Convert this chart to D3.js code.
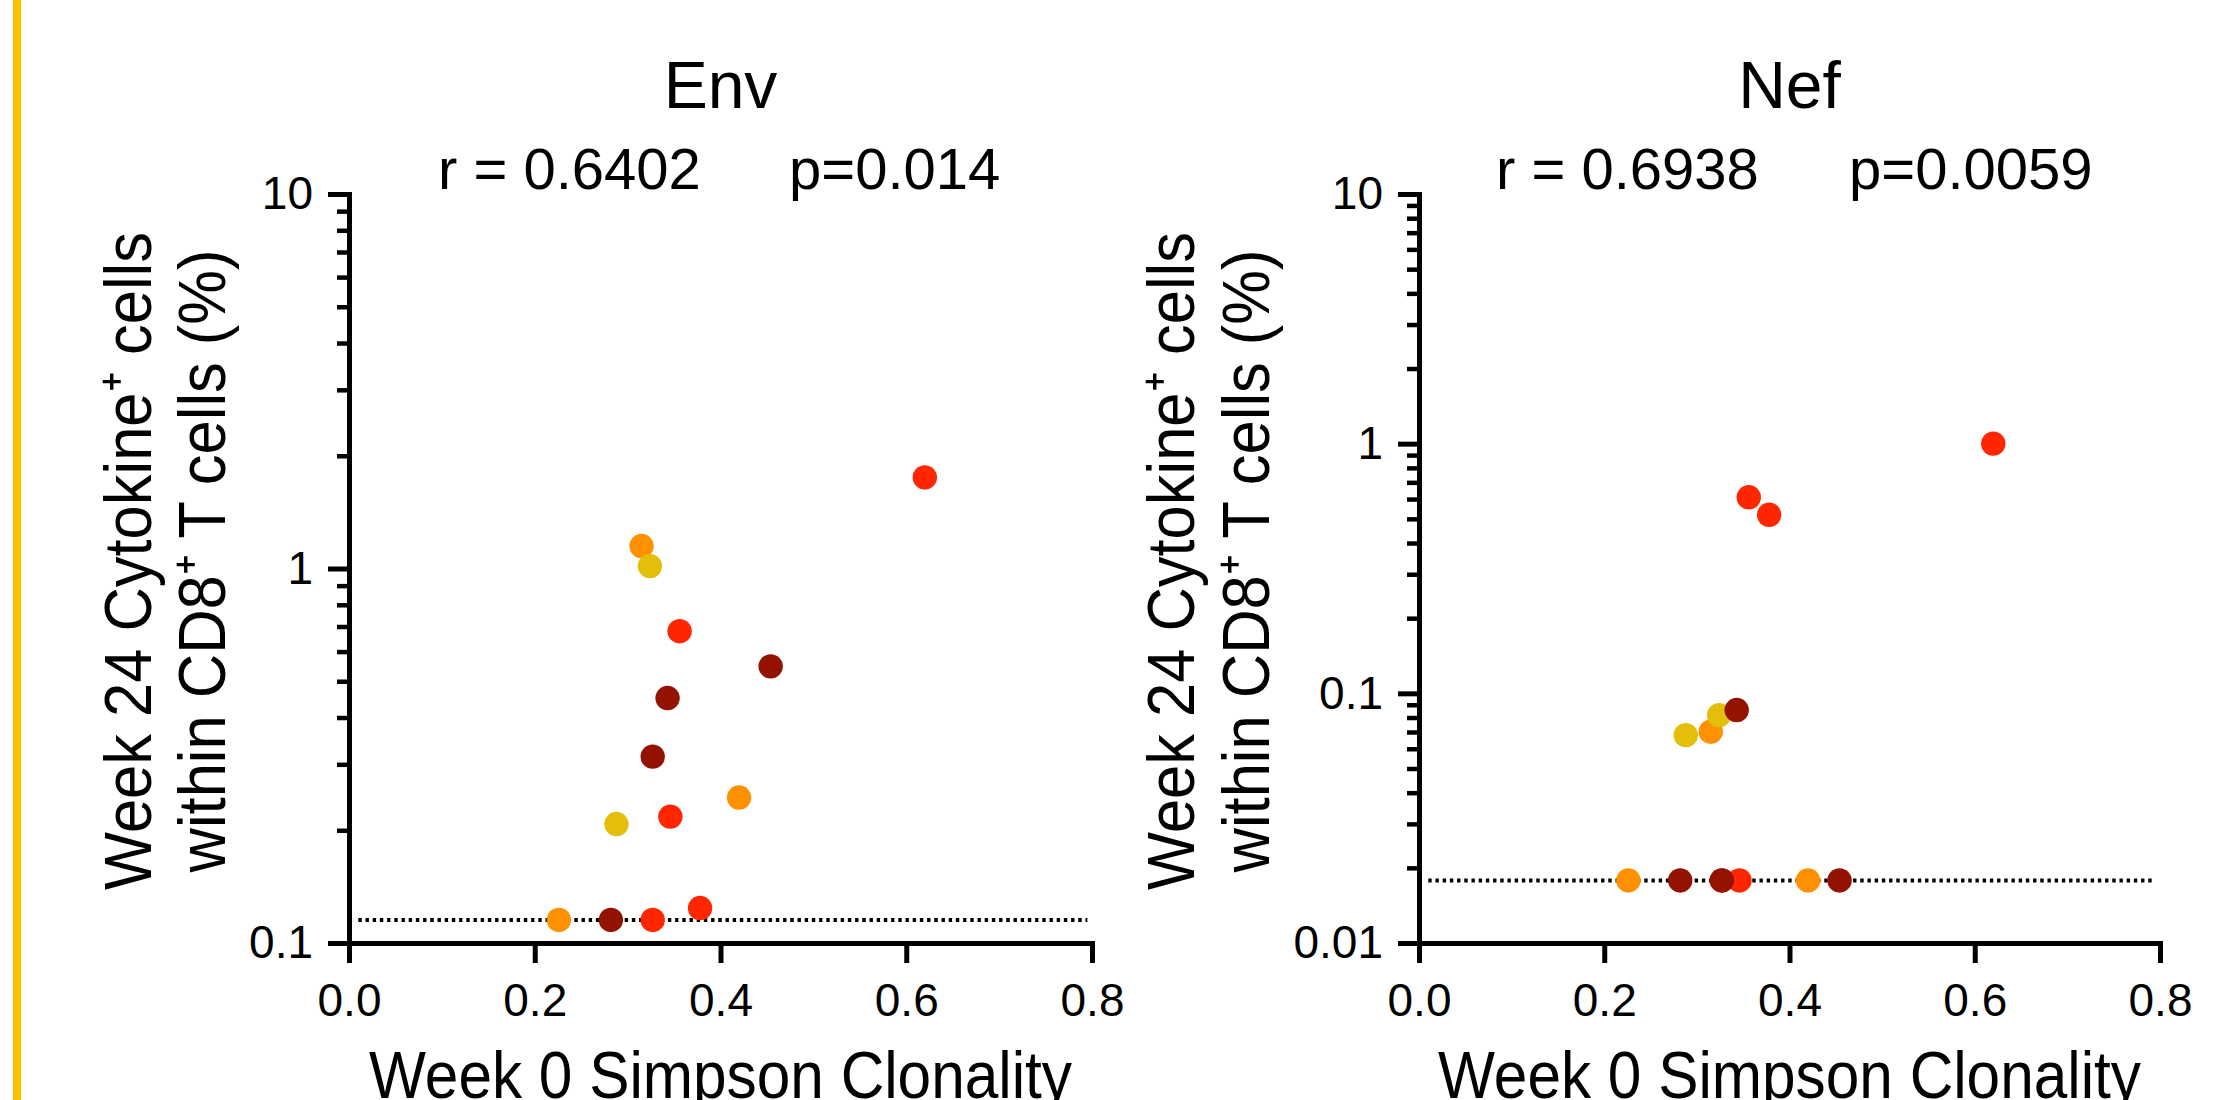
<!DOCTYPE html>
<html>
<head>
<meta charset="utf-8">
<script src="https://cdn.jsdelivr.net/npm/d3@7"></script>
<style>
  html, body { margin: 0; padding: 0; background: #ffffff; }
  svg { display: block; }
  text { font-family: "Liberation Sans", Arial, Helvetica, sans-serif; fill: #000; }
</style>
</head>
<body>
<svg id="chart" width="2229" height="1100"></svg>
<script>
// ---------------- DATA ----------------
// One entry per subject (drawing order: orange, yellow, red, dark red)
const groups     = ["orange","orange","orange","yellow","yellow","red","red","red","red","red","darkred","darkred","darkred","darkred"];
const clonality  = [0.315, 0.420, 0.226, 0.324, 0.288, 0.620, 0.356, 0.346, 0.378, 0.327, 0.454, 0.343, 0.327, 0.282];
const envValues  = [1.148, 0.2446, 0.1152, 1.015, 0.2078, 1.75, 0.68, 0.2175, 0.124, 0.1152, 0.548, 0.451, 0.3145, 0.1152];
const nefValues  = [0.0702, 0.0178, 0.0178, 0.0818, 0.068, 1.0, 0.61, 0.0178, 0.519, 0.0178, 0.0178, 0.0857, 0.0178, 0.0178];
const groupColors = { orange: "#ff9100", yellow: "#e3be0b", red: "#ff2600", darkred: "#931300" };

const panelTitles = ["Env", "Nef"];
const rValues = ["r = 0.6402", "r = 0.6938"];
const pValues = ["p=0.014", "p=0.0059"];
const detectionLimits = [0.1152, 0.0178];
const yDomains = [[0.1, 10], [0.01, 10]];
const yMajorTicks = [[0.1, 1, 10], [0.01, 0.1, 1, 10]];
const xTicks = [0, 0.2, 0.4, 0.6, 0.8];
const xDomain = [0, 0.8];
const lodLineExtent = [0.01, 0.795];
const xTitle = "Week 0 Simpson Clonality";
const yTitleLine1 = "Week 24 Cytokine\u207A cells";
const yTitleLine2 = "within CD8\u207A T cells (%)";

// ---------------- LAYOUT ----------------
const svg = d3.select("#chart");
svg.append("rect").attr("x", 0).attr("y", 0).attr("width", 2229).attr("height", 1100).attr("fill", "#fff");
svg.append("rect").attr("x", 13).attr("y", 0).attr("width", 8).attr("height", 1100).attr("fill", "#ffc000");

const panels = [
  { x0: 349, x1: 1092, yTitle1: 151, yTitle2: 225, rX: 438, pX: 789, values: envValues },
  { x0: 1419, x1: 2160, yTitle1: 1194, yTitle2: 1269, rX: 1496, pX: 1849, values: nefValues }
];
const yTop = 194, yBottom = 943;
const AXIS_W = 5;

panels.forEach((p, i) => {
  const x = d3.scaleLinear().domain(xDomain).range([p.x0, p.x1]);
  const y = d3.scaleLog().domain(yDomains[i]).range([yBottom, yTop]);
  const g = svg.append("g");
  const cx = (p.x0 + p.x1) / 2;

  // Title
  g.append("text").attr("x", cx).attr("y", 108).attr("text-anchor", "middle")
    .attr("font-size", 66).text(panelTitles[i]);
  // Stats
  g.append("text").attr("x", p.rX).attr("y", 189).attr("font-size", 58).text(rValues[i]);
  g.append("text").attr("x", p.pX).attr("y", 189).attr("font-size", 58).text(pValues[i]);

  // Y axis - minor ticks
  const minors = y.ticks().filter(v => Math.abs(Math.log10(v) - Math.round(Math.log10(v))) > 1e-6);
  const yMinor = g.append("g").attr("transform", `translate(${p.x0},0)`)
    .call(d3.axisLeft(y).tickValues(minors).tickSize(12).tickFormat(""));
  yMinor.select(".domain").remove();
  yMinor.selectAll(".tick line").attr("stroke", "#000").attr("stroke-width", 4.5);

  // Y axis - major ticks
  const yAxis = g.append("g").attr("transform", `translate(${p.x0},0)`)
    .call(d3.axisLeft(y).tickValues(yMajorTicks[i]).tickSize(21).tickSizeOuter(0).tickPadding(15)
      .tickFormat(d3.format("~g")));
  yAxis.select(".domain").attr("stroke", "#000").attr("stroke-width", AXIS_W).attr("stroke-linecap", "square");
  yAxis.selectAll(".tick line").attr("stroke", "#000").attr("stroke-width", AXIS_W);
  yAxis.selectAll(".tick text").attr("font-size", 46).attr("font-family", "Liberation Sans, Arial, sans-serif").attr("fill", "#000");

  // X axis
  const xAxis = g.append("g").attr("transform", `translate(0,${yBottom})`)
    .call(d3.axisBottom(x).tickValues(xTicks).tickSize(20).tickSizeOuter(0).tickPadding(20)
      .tickFormat(d3.format(".1f")));
  xAxis.select(".domain").attr("stroke", "#000").attr("stroke-width", AXIS_W).attr("stroke-linecap", "square");
  xAxis.selectAll(".tick line").attr("stroke", "#000").attr("stroke-width", AXIS_W);
  xAxis.selectAll(".tick text").attr("font-size", 46).attr("font-family", "Liberation Sans, Arial, sans-serif").attr("fill", "#000");

  // Detection limit dotted line
  g.append("line")
    .attr("x1", x(lodLineExtent[0])).attr("x2", x(lodLineExtent[1]))
    .attr("y1", y(detectionLimits[i])).attr("y2", y(detectionLimits[i]))
    .attr("stroke", "#000").attr("stroke-width", 4).attr("stroke-dasharray", "3.4 3.8");

  // Points
  g.append("g").selectAll("circle")
    .data(clonality.map((c, k) => ({ c, v: p.values[k], grp: groups[k] })))
    .join("circle")
    .attr("cx", d => x(d.c)).attr("cy", d => y(d.v)).attr("r", 12.2)
    .attr("fill", d => groupColors[d.grp]);

  // Axis titles
  g.append("text").attr("x", cx).attr("y", 1098).attr("text-anchor", "middle")
    .attr("font-size", 66).attr("textLength", 703).attr("lengthAdjust", "spacingAndGlyphs").text(xTitle);
  const ty = 561;
  g.append("text").attr("transform", `translate(${p.yTitle1},${ty}) rotate(-90)`).attr("text-anchor", "middle")
    .attr("font-size", 66).attr("textLength", 658).attr("lengthAdjust", "spacingAndGlyphs").text(yTitleLine1);
  g.append("text").attr("transform", `translate(${p.yTitle2},${ty}) rotate(-90)`).attr("text-anchor", "middle")
    .attr("font-size", 66).attr("textLength", 623).attr("lengthAdjust", "spacingAndGlyphs").text(yTitleLine2);
});
</script>
</body>
</html>
